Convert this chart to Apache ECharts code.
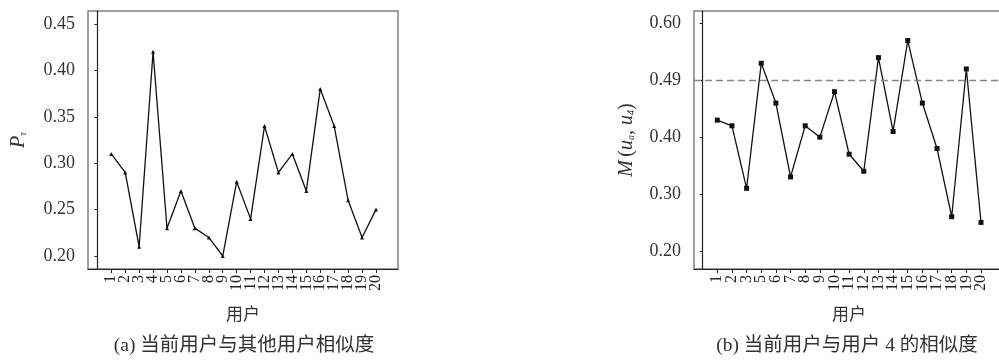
<!DOCTYPE html>
<html>
<head>
<meta charset="utf-8">
<script src="https://cdn.jsdelivr.net/npm/echarts@6/dist/echarts.min.js"></script>
<style>
html,body{margin:0;padding:0;background:#fff;}
#c{width:999px;height:362px;}
</style>
</head>
<body>
<div id="c"></div>
<script>
// ---- data ----
const leftXLabels = ['1','2','3','4','5','6','7','8','9','10','11','12','13','14','15','16','17','18','19','20'];
const leftValues = [0.31,0.29,0.21,0.42,0.23,0.27,0.23,0.22,0.20,0.28,0.24,0.34,0.29,0.31,0.27,0.38,0.34,0.26,0.22,0.25];
const leftYTicks = [0.20,0.25,0.30,0.35,0.40,0.45];
const leftYTickLabels = ['0.20','0.25','0.30','0.35','0.40','0.45'];

const rightXLabels = ['1','2','3','5','6','7','8','9','10','11','12','13','14','15','16','17','18','19','20'];
const rightValues = [0.43,0.42,0.31,0.53,0.46,0.33,0.42,0.40,0.48,0.37,0.34,0.54,0.41,0.57,0.46,0.38,0.26,0.52,0.25];
const rightYTicks = [0.20,0.30,0.40,0.50,0.60];
const rightYTickLabels = ['0.20','0.30','0.40','0.49','0.60'];
const thresholdValue = 0.50;

const captionA = '(a) 当前用户与其他用户相似度';
const captionB = '(b) 当前用户与用户 4 的相似度';
const xName = '用户';

// ---- chart ----
const SERIF = "'Liberation Serif', 'Noto Sans CJK SC', serif";
const CJK = "'Liberation Serif', 'Noto Sans CJK SC', sans-serif";
const chart = echarts.init(document.getElementById('c'), null, {renderer:'canvas'});

function idx(arr){ return arr.map((_, i) => i + 1); }
function lookup(ticks, labels){ return v => { for (let i=0;i<ticks.length;i++){ if (Math.abs(ticks[i]-v) < 1e-6) return labels[i]; } return ''; }; }

function xAxisCfg(gridIndex, labels, min, max){
  // empty guard labels at both ends so the edge-label overlap rule never hides a real label
  const labelPos = [0].concat(idx(labels), [labels.length + 1]);
  return {
    type:'value', gridIndex, min, max,
    axisLine:{show:true, onZero:false, lineStyle:{color:'#222', width:1.2}},
    axisTick:{show:true, customValues: idx(labels), length:4, lineStyle:{color:'#222', width:1}},
    axisLabel:{show:true, customValues: labelPos, rotate:90, margin:6,
      hideOverlap:false,
      fontFamily:SERIF, fontSize:16, lineHeight:10, color:'#222',
      formatter: v => labels[Math.round(v)-1] || ''},
    splitLine:{show:false},
    name: xName, nameLocation:'middle', nameGap:38,
    nameTextStyle:{fontFamily:CJK, fontSize:17, color:'#333'}
  };
}
function yAxisCfg(gridIndex, ticks, labels, min, max, name, rich, gap){
  return {
    type:'value', gridIndex, min, max,
    axisLine:{show:true, lineStyle:{color:'#222', width:1.2}},
    axisTick:{show:true, customValues: ticks, length:3, lineStyle:{color:'#222', width:1}},
    axisLabel:{show:true, customValues: ticks, margin:13, fontFamily:SERIF, fontSize:18, color:'#333',
      showMinLabel:true, showMaxLabel:true,
      formatter: lookup(ticks, labels)},
    splitLine:{show:false},
    name, nameLocation:'middle', nameRotate:90, nameGap:gap,
    nameTextStyle:{rich}
  };
}

const richBase = {
  i:{fontFamily:SERIF, fontStyle:'italic', fontSize:20, lineHeight:24, color:'#333'},
  n:{fontFamily:SERIF, fontSize:20, lineHeight:24, color:'#333'},
  s:{fontFamily:SERIF, fontStyle:'italic', fontSize:10, lineHeight:10, verticalAlign:'bottom', padding:[0,0,3,0], color:'#333'}
};

chart.setOption({
  animation:false,
  grid:[
    {left:88, top:11, width:310, height:258, show:true, borderColor:'#808080', borderWidth:1.5, backgroundColor:'transparent', outerBoundsMode:'none', containLabel:false},
    {left:694, top:11, width:310, height:258, show:true, borderColor:'#808080', borderWidth:1.5, backgroundColor:'transparent', outerBoundsMode:'none', containLabel:false}
  ],
  xAxis:[
    xAxisCfg(0, leftXLabels, -0.67, 21.58),
    xAxisCfg(1, rightXLabels, -0.59, 20.57)
  ],
  yAxis:[
    yAxisCfg(0, leftYTicks, leftYTickLabels, 0.186, 0.464, '{i|P}{s|τ}', richBase, 57),
    yAxisCfg(1, rightYTicks, rightYTickLabels, 0.168, 0.622, '{i|M} {n|(}{i|u}{s|a}{n|, }{i|u}{s|4}{n|)}', richBase, 55)
  ],
  series:[
    {type:'line', xAxisIndex:0, yAxisIndex:0,
      data: leftValues.map((v,i)=>[i+1, v]),
      symbol:'triangle', symbolSize:4, showSymbol:true,
      lineStyle:{color:'#111', width:1.3}, itemStyle:{color:'#111'}},
    {type:'line', xAxisIndex:1, yAxisIndex:1,
      data: rightValues.map((v,i)=>[i+1, v]),
      symbol:'rect', symbolSize:5, showSymbol:true,
      lineStyle:{color:'#111', width:1.3}, itemStyle:{color:'#111'},
      markLine:{silent:true, symbol:'none', label:{show:false},
        lineStyle:{color:'#888', type:[7,4], width:1.3},
        data:[{yAxis: thresholdValue}]}}
  ],
  graphic:[
    {type:'text', x:244, y:346, style:{text:captionA, font:"19.5px 'Liberation Serif', 'Noto Sans CJK SC'", fill:'#333', textAlign:'center', textVerticalAlign:'middle'}},
    {type:'text', x:847, y:346, style:{text:captionB, font:"19.5px 'Liberation Serif', 'Noto Sans CJK SC'", fill:'#333', textAlign:'center', textVerticalAlign:'middle'}}
  ]
});
</script>
</body>
</html>
